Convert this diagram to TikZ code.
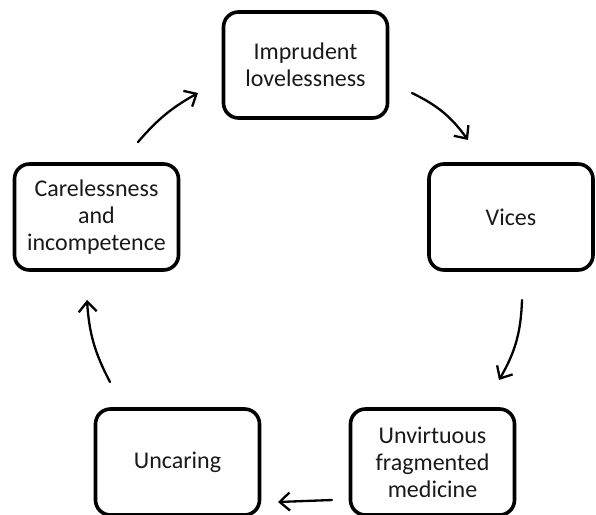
\documentclass[tikz,border=0pt]{standalone}
\usepackage{fontspec}
\setmainfont{Carlito}
\usetikzlibrary{arrows.meta}

\tikzset{
  stagebox/.style={draw=black, line width=3.6pt, rounded corners=15pt,
    minimum width=164pt, minimum height=106pt, align=center,
    font=\fontsize{24}{27}\selectfont, text=black!90, inner sep=0pt},
  cyclearrow/.style={line width=2.3pt, line cap=round,
    -{Straight Barb[length=10pt, width=18pt, line width=2.3pt]}}
}

\begin{document}
\begin{tikzpicture}[x=1pt, y=-1pt]
  \useasboundingbox (0,0) rectangle (596,514);
  \clip (0,0) rectangle (596,514);

  % the five stages of the cycle
  \node[stagebox] (lovelessness) at (305.5,65)  {Imprudent\\lovelessness};
  \node[stagebox] (vices)        at (511,217)   {Vices};
  \node[stagebox] (medicine)     at (432.5,462) {Unvirtuous\\fragmented\\medicine};
  \node[stagebox] (uncaring)     at (177.5,462) {Uncaring};
  \node[stagebox] (careless)     at (96.5,217)  {Carelessness\\and\\incompetence};

  % free ends of the connecting arrows
  \coordinate (a1s) at (138,142);  \coordinate (a1e) at (198,93);
  \coordinate (a2s) at (412,93);   \coordinate (a2e) at (468,140);
  \coordinate (a3s) at (522,300);  \coordinate (a3e) at (499,380);
  \coordinate (a4s) at (332,500);  \coordinate (a4e) at (278,502);
  \coordinate (a5s) at (110,382);  \coordinate (a5e) at (87,300);

  \draw[cyclearrow] (a1s) to[bend left=10] (a1e);
  \draw[cyclearrow] (a2s) to[bend left=14] (a2e);
  \draw[cyclearrow] (a3s) to[bend left=14] (a3e);
  \draw[cyclearrow] (a4s) -- (a4e);
  \draw[cyclearrow] (a5s) to[bend left=12] (a5e);
\end{tikzpicture}
\end{document}
